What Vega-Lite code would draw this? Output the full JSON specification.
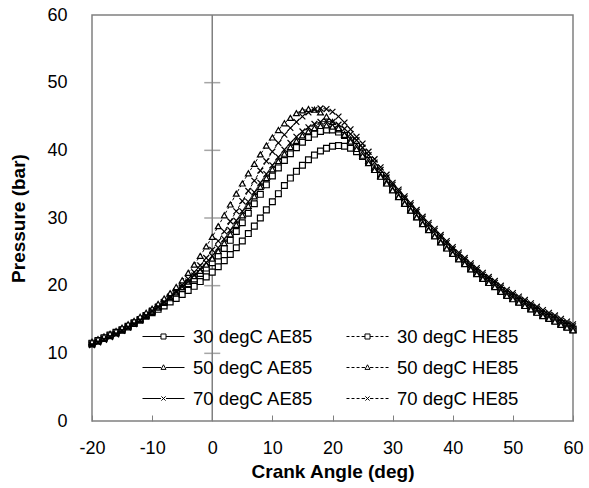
{
  "$schema": "https://vega.github.io/schema/vega-lite/v6.json",
  "width": 481,
  "height": 406,
  "autosize": {"type": "none"},
  "padding": {"left": 92, "top": 15, "right": 16, "bottom": 67},
  "background": "white",
  "config": {
    "font": "Liberation Sans",
    "view": {"stroke": "#808080", "strokeWidth": 1.5},
    "axis": {"grid": false, "labelColor": "black", "titleColor": "black", "labelFont": "Liberation Sans", "titleFont": "Liberation Sans"}
  },
  "datasets": {
    "curves": [
{"series":"30 degC AE85","angle":-20,"pressure":11.4},{"series":"30 degC AE85","angle":-19,"pressure":11.8},{"series":"30 degC AE85","angle":-18,"pressure":12.2},{"series":"30 degC AE85","angle":-17,"pressure":12.6},{"series":"30 degC AE85","angle":-16,"pressure":13.0},{"series":"30 degC AE85","angle":-15,"pressure":13.4},{"series":"30 degC AE85","angle":-14,"pressure":13.9},{"series":"30 degC AE85","angle":-13,"pressure":14.4},{"series":"30 degC AE85","angle":-12,"pressure":14.9},{"series":"30 degC AE85","angle":-11,"pressure":15.5},
{"series":"30 degC AE85","angle":-10,"pressure":16.0},{"series":"30 degC AE85","angle":-9,"pressure":16.5},{"series":"30 degC AE85","angle":-8,"pressure":17.0},{"series":"30 degC AE85","angle":-7,"pressure":17.6},{"series":"30 degC AE85","angle":-6,"pressure":18.1},{"series":"30 degC AE85","angle":-5,"pressure":18.7},{"series":"30 degC AE85","angle":-4,"pressure":19.3},{"series":"30 degC AE85","angle":-3,"pressure":19.9},{"series":"30 degC AE85","angle":-2,"pressure":20.6},{"series":"30 degC AE85","angle":-1,"pressure":21.3},
{"series":"30 degC AE85","angle":0,"pressure":22.0},{"series":"30 degC AE85","angle":1,"pressure":22.8},{"series":"30 degC AE85","angle":2,"pressure":23.7},{"series":"30 degC AE85","angle":3,"pressure":24.6},{"series":"30 degC AE85","angle":4,"pressure":25.6},{"series":"30 degC AE85","angle":5,"pressure":26.6},{"series":"30 degC AE85","angle":6,"pressure":27.7},{"series":"30 degC AE85","angle":7,"pressure":28.8},{"series":"30 degC AE85","angle":8,"pressure":30.0},{"series":"30 degC AE85","angle":9,"pressure":31.2},
{"series":"30 degC AE85","angle":10,"pressure":32.4},{"series":"30 degC AE85","angle":11,"pressure":33.6},{"series":"30 degC AE85","angle":12,"pressure":34.8},{"series":"30 degC AE85","angle":13,"pressure":35.9},{"series":"30 degC AE85","angle":14,"pressure":36.9},{"series":"30 degC AE85","angle":15,"pressure":37.8},{"series":"30 degC AE85","angle":16,"pressure":38.6},{"series":"30 degC AE85","angle":17,"pressure":39.3},{"series":"30 degC AE85","angle":18,"pressure":39.9},{"series":"30 degC AE85","angle":19,"pressure":40.3},
{"series":"30 degC AE85","angle":20,"pressure":40.6},{"series":"30 degC AE85","angle":21,"pressure":40.7},{"series":"30 degC AE85","angle":22,"pressure":40.6},{"series":"30 degC AE85","angle":23,"pressure":40.3},{"series":"30 degC AE85","angle":24,"pressure":39.8},{"series":"30 degC AE85","angle":25,"pressure":39.1},{"series":"30 degC AE85","angle":26,"pressure":38.2},{"series":"30 degC AE85","angle":27,"pressure":37.2},{"series":"30 degC AE85","angle":28,"pressure":36.2},{"series":"30 degC AE85","angle":29,"pressure":35.2},
{"series":"30 degC AE85","angle":30,"pressure":34.2},{"series":"30 degC AE85","angle":31,"pressure":33.2},{"series":"30 degC AE85","angle":32,"pressure":32.2},{"series":"30 degC AE85","angle":33,"pressure":31.2},{"series":"30 degC AE85","angle":34,"pressure":30.2},{"series":"30 degC AE85","angle":35,"pressure":29.2},{"series":"30 degC AE85","angle":36,"pressure":28.3},{"series":"30 degC AE85","angle":37,"pressure":27.4},{"series":"30 degC AE85","angle":38,"pressure":26.5},{"series":"30 degC AE85","angle":39,"pressure":25.6},
{"series":"30 degC AE85","angle":40,"pressure":24.8},{"series":"30 degC AE85","angle":41,"pressure":24.0},{"series":"30 degC AE85","angle":42,"pressure":23.3},{"series":"30 degC AE85","angle":43,"pressure":22.5},{"series":"30 degC AE85","angle":44,"pressure":21.8},{"series":"30 degC AE85","angle":45,"pressure":21.1},{"series":"30 degC AE85","angle":46,"pressure":20.5},{"series":"30 degC AE85","angle":47,"pressure":19.9},{"series":"30 degC AE85","angle":48,"pressure":19.2},{"series":"30 degC AE85","angle":49,"pressure":18.6},
{"series":"30 degC AE85","angle":50,"pressure":18.1},{"series":"30 degC AE85","angle":51,"pressure":17.6},{"series":"30 degC AE85","angle":52,"pressure":17.1},{"series":"30 degC AE85","angle":53,"pressure":16.6},{"series":"30 degC AE85","angle":54,"pressure":16.1},{"series":"30 degC AE85","angle":55,"pressure":15.6},{"series":"30 degC AE85","angle":56,"pressure":15.2},{"series":"30 degC AE85","angle":57,"pressure":14.8},{"series":"30 degC AE85","angle":58,"pressure":14.3},{"series":"30 degC AE85","angle":59,"pressure":13.9},{"series":"30 degC AE85","angle":60,"pressure":13.5},

{"series":"30 degC HE85","angle":-20,"pressure":11.5},{"series":"30 degC HE85","angle":-19,"pressure":11.9},{"series":"30 degC HE85","angle":-18,"pressure":12.3},{"series":"30 degC HE85","angle":-17,"pressure":12.7},{"series":"30 degC HE85","angle":-16,"pressure":13.1},{"series":"30 degC HE85","angle":-15,"pressure":13.5},{"series":"30 degC HE85","angle":-14,"pressure":14.0},{"series":"30 degC HE85","angle":-13,"pressure":14.5},{"series":"30 degC HE85","angle":-12,"pressure":15.0},{"series":"30 degC HE85","angle":-11,"pressure":15.6},
{"series":"30 degC HE85","angle":-10,"pressure":16.2},{"series":"30 degC HE85","angle":-9,"pressure":16.8},{"series":"30 degC HE85","angle":-8,"pressure":17.5},{"series":"30 degC HE85","angle":-7,"pressure":18.2},{"series":"30 degC HE85","angle":-6,"pressure":18.9},{"series":"30 degC HE85","angle":-5,"pressure":19.6},{"series":"30 degC HE85","angle":-4,"pressure":20.3},{"series":"30 degC HE85","angle":-3,"pressure":21.0},{"series":"30 degC HE85","angle":-2,"pressure":21.8},{"series":"30 degC HE85","angle":-1,"pressure":22.6},
{"series":"30 degC HE85","angle":0,"pressure":23.4},{"series":"30 degC HE85","angle":1,"pressure":24.4},{"series":"30 degC HE85","angle":2,"pressure":25.5},{"series":"30 degC HE85","angle":3,"pressure":26.7},{"series":"30 degC HE85","angle":4,"pressure":28.0},{"series":"30 degC HE85","angle":5,"pressure":29.3},{"series":"30 degC HE85","angle":6,"pressure":30.7},{"series":"30 degC HE85","angle":7,"pressure":32.1},{"series":"30 degC HE85","angle":8,"pressure":33.5},{"series":"30 degC HE85","angle":9,"pressure":34.9},
{"series":"30 degC HE85","angle":10,"pressure":36.2},{"series":"30 degC HE85","angle":11,"pressure":37.4},{"series":"30 degC HE85","angle":12,"pressure":38.5},{"series":"30 degC HE85","angle":13,"pressure":39.5},{"series":"30 degC HE85","angle":14,"pressure":40.4},{"series":"30 degC HE85","angle":15,"pressure":41.2},{"series":"30 degC HE85","angle":16,"pressure":41.9},{"series":"30 degC HE85","angle":17,"pressure":42.4},{"series":"30 degC HE85","angle":18,"pressure":42.8},{"series":"30 degC HE85","angle":19,"pressure":43.0},
{"series":"30 degC HE85","angle":20,"pressure":43.0},{"series":"30 degC HE85","angle":21,"pressure":42.7},{"series":"30 degC HE85","angle":22,"pressure":42.2},{"series":"30 degC HE85","angle":23,"pressure":41.5},{"series":"30 degC HE85","angle":24,"pressure":40.6},{"series":"30 degC HE85","angle":25,"pressure":39.6},{"series":"30 degC HE85","angle":26,"pressure":38.5},{"series":"30 degC HE85","angle":27,"pressure":37.4},{"series":"30 degC HE85","angle":28,"pressure":36.3},{"series":"30 degC HE85","angle":29,"pressure":35.3},
{"series":"30 degC HE85","angle":30,"pressure":34.3},{"series":"30 degC HE85","angle":31,"pressure":33.3},{"series":"30 degC HE85","angle":32,"pressure":32.3},{"series":"30 degC HE85","angle":33,"pressure":31.3},{"series":"30 degC HE85","angle":34,"pressure":30.3},{"series":"30 degC HE85","angle":35,"pressure":29.3},{"series":"30 degC HE85","angle":36,"pressure":28.4},{"series":"30 degC HE85","angle":37,"pressure":27.5},{"series":"30 degC HE85","angle":38,"pressure":26.6},{"series":"30 degC HE85","angle":39,"pressure":25.7},
{"series":"30 degC HE85","angle":40,"pressure":24.9},{"series":"30 degC HE85","angle":41,"pressure":24.1},{"series":"30 degC HE85","angle":42,"pressure":23.4},{"series":"30 degC HE85","angle":43,"pressure":22.6},{"series":"30 degC HE85","angle":44,"pressure":21.9},{"series":"30 degC HE85","angle":45,"pressure":21.2},{"series":"30 degC HE85","angle":46,"pressure":20.6},{"series":"30 degC HE85","angle":47,"pressure":20.0},{"series":"30 degC HE85","angle":48,"pressure":19.3},{"series":"30 degC HE85","angle":49,"pressure":18.7},
{"series":"30 degC HE85","angle":50,"pressure":18.2},{"series":"30 degC HE85","angle":51,"pressure":17.7},{"series":"30 degC HE85","angle":52,"pressure":17.2},{"series":"30 degC HE85","angle":53,"pressure":16.7},{"series":"30 degC HE85","angle":54,"pressure":16.2},{"series":"30 degC HE85","angle":55,"pressure":15.7},{"series":"30 degC HE85","angle":56,"pressure":15.3},{"series":"30 degC HE85","angle":57,"pressure":14.9},{"series":"30 degC HE85","angle":58,"pressure":14.4},{"series":"30 degC HE85","angle":59,"pressure":14.0},{"series":"30 degC HE85","angle":60,"pressure":13.6},

{"series":"50 degC AE85","angle":-20,"pressure":11.5},{"series":"50 degC AE85","angle":-19,"pressure":11.9},{"series":"50 degC AE85","angle":-18,"pressure":12.3},{"series":"50 degC AE85","angle":-17,"pressure":12.7},{"series":"50 degC AE85","angle":-16,"pressure":13.1},{"series":"50 degC AE85","angle":-15,"pressure":13.6},{"series":"50 degC AE85","angle":-14,"pressure":14.1},{"series":"50 degC AE85","angle":-13,"pressure":14.6},{"series":"50 degC AE85","angle":-12,"pressure":15.1},{"series":"50 degC AE85","angle":-11,"pressure":15.7},
{"series":"50 degC AE85","angle":-10,"pressure":16.3},{"series":"50 degC AE85","angle":-9,"pressure":16.9},{"series":"50 degC AE85","angle":-8,"pressure":17.6},{"series":"50 degC AE85","angle":-7,"pressure":18.3},{"series":"50 degC AE85","angle":-6,"pressure":19.0},{"series":"50 degC AE85","angle":-5,"pressure":19.8},{"series":"50 degC AE85","angle":-4,"pressure":20.6},{"series":"50 degC AE85","angle":-3,"pressure":21.4},{"series":"50 degC AE85","angle":-2,"pressure":22.2},{"series":"50 degC AE85","angle":-1,"pressure":23.1},
{"series":"50 degC AE85","angle":0,"pressure":24.0},{"series":"50 degC AE85","angle":1,"pressure":25.1},{"series":"50 degC AE85","angle":2,"pressure":26.3},{"series":"50 degC AE85","angle":3,"pressure":27.6},{"series":"50 degC AE85","angle":4,"pressure":29.0},{"series":"50 degC AE85","angle":5,"pressure":30.4},{"series":"50 degC AE85","angle":6,"pressure":31.8},{"series":"50 degC AE85","angle":7,"pressure":33.2},{"series":"50 degC AE85","angle":8,"pressure":34.6},{"series":"50 degC AE85","angle":9,"pressure":35.9},
{"series":"50 degC AE85","angle":10,"pressure":37.2},{"series":"50 degC AE85","angle":11,"pressure":38.4},{"series":"50 degC AE85","angle":12,"pressure":39.5},{"series":"50 degC AE85","angle":13,"pressure":40.5},{"series":"50 degC AE85","angle":14,"pressure":41.4},{"series":"50 degC AE85","angle":15,"pressure":42.2},{"series":"50 degC AE85","angle":16,"pressure":42.8},{"series":"50 degC AE85","angle":17,"pressure":43.3},{"series":"50 degC AE85","angle":18,"pressure":43.6},{"series":"50 degC AE85","angle":19,"pressure":43.7},
{"series":"50 degC AE85","angle":20,"pressure":43.5},{"series":"50 degC AE85","angle":21,"pressure":43.1},{"series":"50 degC AE85","angle":22,"pressure":42.4},{"series":"50 degC AE85","angle":23,"pressure":41.6},{"series":"50 degC AE85","angle":24,"pressure":40.6},{"series":"50 degC AE85","angle":25,"pressure":39.6},{"series":"50 degC AE85","angle":26,"pressure":38.5},{"series":"50 degC AE85","angle":27,"pressure":37.4},{"series":"50 degC AE85","angle":28,"pressure":36.3},{"series":"50 degC AE85","angle":29,"pressure":35.3},
{"series":"50 degC AE85","angle":30,"pressure":34.2},{"series":"50 degC AE85","angle":31,"pressure":33.2},{"series":"50 degC AE85","angle":32,"pressure":32.2},{"series":"50 degC AE85","angle":33,"pressure":31.2},{"series":"50 degC AE85","angle":34,"pressure":30.2},{"series":"50 degC AE85","angle":35,"pressure":29.2},{"series":"50 degC AE85","angle":36,"pressure":28.3},{"series":"50 degC AE85","angle":37,"pressure":27.4},{"series":"50 degC AE85","angle":38,"pressure":26.5},{"series":"50 degC AE85","angle":39,"pressure":25.6},
{"series":"50 degC AE85","angle":40,"pressure":24.8},{"series":"50 degC AE85","angle":41,"pressure":24.0},{"series":"50 degC AE85","angle":42,"pressure":23.3},{"series":"50 degC AE85","angle":43,"pressure":22.5},{"series":"50 degC AE85","angle":44,"pressure":21.8},{"series":"50 degC AE85","angle":45,"pressure":21.1},{"series":"50 degC AE85","angle":46,"pressure":20.5},{"series":"50 degC AE85","angle":47,"pressure":19.9},{"series":"50 degC AE85","angle":48,"pressure":19.2},{"series":"50 degC AE85","angle":49,"pressure":18.6},
{"series":"50 degC AE85","angle":50,"pressure":18.1},{"series":"50 degC AE85","angle":51,"pressure":17.6},{"series":"50 degC AE85","angle":52,"pressure":17.1},{"series":"50 degC AE85","angle":53,"pressure":16.6},{"series":"50 degC AE85","angle":54,"pressure":16.1},{"series":"50 degC AE85","angle":55,"pressure":15.6},{"series":"50 degC AE85","angle":56,"pressure":15.2},{"series":"50 degC AE85","angle":57,"pressure":14.8},{"series":"50 degC AE85","angle":58,"pressure":14.3},{"series":"50 degC AE85","angle":59,"pressure":13.9},{"series":"50 degC AE85","angle":60,"pressure":13.5},

{"series":"50 degC HE85","angle":-20,"pressure":11.7},{"series":"50 degC HE85","angle":-19,"pressure":12.1},{"series":"50 degC HE85","angle":-18,"pressure":12.5},{"series":"50 degC HE85","angle":-17,"pressure":12.9},{"series":"50 degC HE85","angle":-16,"pressure":13.3},{"series":"50 degC HE85","angle":-15,"pressure":13.8},{"series":"50 degC HE85","angle":-14,"pressure":14.3},{"series":"50 degC HE85","angle":-13,"pressure":14.8},{"series":"50 degC HE85","angle":-12,"pressure":15.4},{"series":"50 degC HE85","angle":-11,"pressure":16.0},
{"series":"50 degC HE85","angle":-10,"pressure":16.6},{"series":"50 degC HE85","angle":-9,"pressure":17.3},{"series":"50 degC HE85","angle":-8,"pressure":18.1},{"series":"50 degC HE85","angle":-7,"pressure":18.9},{"series":"50 degC HE85","angle":-6,"pressure":19.8},{"series":"50 degC HE85","angle":-5,"pressure":20.8},{"series":"50 degC HE85","angle":-4,"pressure":21.9},{"series":"50 degC HE85","angle":-3,"pressure":23.1},{"series":"50 degC HE85","angle":-2,"pressure":24.4},{"series":"50 degC HE85","angle":-1,"pressure":25.8},
{"series":"50 degC HE85","angle":0,"pressure":27.2},{"series":"50 degC HE85","angle":1,"pressure":28.8},{"series":"50 degC HE85","angle":2,"pressure":30.4},{"series":"50 degC HE85","angle":3,"pressure":32.0},{"series":"50 degC HE85","angle":4,"pressure":33.6},{"series":"50 degC HE85","angle":5,"pressure":35.1},{"series":"50 degC HE85","angle":6,"pressure":36.6},{"series":"50 degC HE85","angle":7,"pressure":38.0},{"series":"50 degC HE85","angle":8,"pressure":39.4},{"series":"50 degC HE85","angle":9,"pressure":40.7},
{"series":"50 degC HE85","angle":10,"pressure":41.9},{"series":"50 degC HE85","angle":11,"pressure":43.0},{"series":"50 degC HE85","angle":12,"pressure":44.0},{"series":"50 degC HE85","angle":13,"pressure":44.8},{"series":"50 degC HE85","angle":14,"pressure":45.5},{"series":"50 degC HE85","angle":15,"pressure":45.9},{"series":"50 degC HE85","angle":16,"pressure":46.1},{"series":"50 degC HE85","angle":17,"pressure":46.0},{"series":"50 degC HE85","angle":18,"pressure":45.6},{"series":"50 degC HE85","angle":19,"pressure":45.0},
{"series":"50 degC HE85","angle":20,"pressure":44.2},{"series":"50 degC HE85","angle":21,"pressure":43.3},{"series":"50 degC HE85","angle":22,"pressure":42.3},{"series":"50 degC HE85","angle":23,"pressure":41.3},{"series":"50 degC HE85","angle":24,"pressure":40.2},{"series":"50 degC HE85","angle":25,"pressure":39.2},{"series":"50 degC HE85","angle":26,"pressure":38.1},{"series":"50 degC HE85","angle":27,"pressure":37.1},{"series":"50 degC HE85","angle":28,"pressure":36.1},{"series":"50 degC HE85","angle":29,"pressure":35.1},
{"series":"50 degC HE85","angle":30,"pressure":34.1},{"series":"50 degC HE85","angle":31,"pressure":33.1},{"series":"50 degC HE85","angle":32,"pressure":32.1},{"series":"50 degC HE85","angle":33,"pressure":31.1},{"series":"50 degC HE85","angle":34,"pressure":30.1},{"series":"50 degC HE85","angle":35,"pressure":29.1},{"series":"50 degC HE85","angle":36,"pressure":28.2},{"series":"50 degC HE85","angle":37,"pressure":27.3},{"series":"50 degC HE85","angle":38,"pressure":26.4},{"series":"50 degC HE85","angle":39,"pressure":25.5},
{"series":"50 degC HE85","angle":40,"pressure":24.7},{"series":"50 degC HE85","angle":41,"pressure":23.9},{"series":"50 degC HE85","angle":42,"pressure":23.2},{"series":"50 degC HE85","angle":43,"pressure":22.4},{"series":"50 degC HE85","angle":44,"pressure":21.7},{"series":"50 degC HE85","angle":45,"pressure":21.0},{"series":"50 degC HE85","angle":46,"pressure":20.4},{"series":"50 degC HE85","angle":47,"pressure":19.8},{"series":"50 degC HE85","angle":48,"pressure":19.1},{"series":"50 degC HE85","angle":49,"pressure":18.5},
{"series":"50 degC HE85","angle":50,"pressure":18.0},{"series":"50 degC HE85","angle":51,"pressure":17.5},{"series":"50 degC HE85","angle":52,"pressure":17.0},{"series":"50 degC HE85","angle":53,"pressure":16.5},{"series":"50 degC HE85","angle":54,"pressure":16.0},{"series":"50 degC HE85","angle":55,"pressure":15.5},{"series":"50 degC HE85","angle":56,"pressure":15.1},{"series":"50 degC HE85","angle":57,"pressure":14.7},{"series":"50 degC HE85","angle":58,"pressure":14.2},{"series":"50 degC HE85","angle":59,"pressure":13.8},{"series":"50 degC HE85","angle":60,"pressure":13.4},

{"series":"70 degC AE85","angle":-20,"pressure":11.3},{"series":"70 degC AE85","angle":-19,"pressure":11.7},{"series":"70 degC AE85","angle":-18,"pressure":12.1},{"series":"70 degC AE85","angle":-17,"pressure":12.5},{"series":"70 degC AE85","angle":-16,"pressure":12.9},{"series":"70 degC AE85","angle":-15,"pressure":13.4},{"series":"70 degC AE85","angle":-14,"pressure":13.9},{"series":"70 degC AE85","angle":-13,"pressure":14.4},{"series":"70 degC AE85","angle":-12,"pressure":14.9},{"series":"70 degC AE85","angle":-11,"pressure":15.5},
{"series":"70 degC AE85","angle":-10,"pressure":16.2},{"series":"70 degC AE85","angle":-9,"pressure":16.8},{"series":"70 degC AE85","angle":-8,"pressure":17.5},{"series":"70 degC AE85","angle":-7,"pressure":18.2},{"series":"70 degC AE85","angle":-6,"pressure":19.0},{"series":"70 degC AE85","angle":-5,"pressure":19.8},{"series":"70 degC AE85","angle":-4,"pressure":20.6},{"series":"70 degC AE85","angle":-3,"pressure":21.5},{"series":"70 degC AE85","angle":-2,"pressure":22.4},{"series":"70 degC AE85","angle":-1,"pressure":23.4},
{"series":"70 degC AE85","angle":0,"pressure":24.4},{"series":"70 degC AE85","angle":1,"pressure":25.6},{"series":"70 degC AE85","angle":2,"pressure":26.9},{"series":"70 degC AE85","angle":3,"pressure":28.2},{"series":"70 degC AE85","angle":4,"pressure":29.6},{"series":"70 degC AE85","angle":5,"pressure":31.0},{"series":"70 degC AE85","angle":6,"pressure":32.4},{"series":"70 degC AE85","angle":7,"pressure":33.8},{"series":"70 degC AE85","angle":8,"pressure":35.2},{"series":"70 degC AE85","angle":9,"pressure":36.5},
{"series":"70 degC AE85","angle":10,"pressure":37.8},{"series":"70 degC AE85","angle":11,"pressure":39.0},{"series":"70 degC AE85","angle":12,"pressure":40.1},{"series":"70 degC AE85","angle":13,"pressure":41.1},{"series":"70 degC AE85","angle":14,"pressure":42.0},{"series":"70 degC AE85","angle":15,"pressure":42.8},{"series":"70 degC AE85","angle":16,"pressure":43.4},{"series":"70 degC AE85","angle":17,"pressure":43.9},{"series":"70 degC AE85","angle":18,"pressure":44.2},{"series":"70 degC AE85","angle":19,"pressure":44.3},
{"series":"70 degC AE85","angle":20,"pressure":44.2},{"series":"70 degC AE85","angle":21,"pressure":43.8},{"series":"70 degC AE85","angle":22,"pressure":43.2},{"series":"70 degC AE85","angle":23,"pressure":42.4},{"series":"70 degC AE85","angle":24,"pressure":41.5},{"series":"70 degC AE85","angle":25,"pressure":40.4},{"series":"70 degC AE85","angle":26,"pressure":39.3},{"series":"70 degC AE85","angle":27,"pressure":38.2},{"series":"70 degC AE85","angle":28,"pressure":37.1},{"series":"70 degC AE85","angle":29,"pressure":36.0},
{"series":"70 degC AE85","angle":30,"pressure":34.9},{"series":"70 degC AE85","angle":31,"pressure":33.9},{"series":"70 degC AE85","angle":32,"pressure":32.9},{"series":"70 degC AE85","angle":33,"pressure":31.9},{"series":"70 degC AE85","angle":34,"pressure":30.9},{"series":"70 degC AE85","angle":35,"pressure":29.9},{"series":"70 degC AE85","angle":36,"pressure":29.0},{"series":"70 degC AE85","angle":37,"pressure":28.1},{"series":"70 degC AE85","angle":38,"pressure":27.2},{"series":"70 degC AE85","angle":39,"pressure":26.3},
{"series":"70 degC AE85","angle":40,"pressure":25.4},{"series":"70 degC AE85","angle":41,"pressure":24.6},{"series":"70 degC AE85","angle":42,"pressure":23.8},{"series":"70 degC AE85","angle":43,"pressure":23.0},{"series":"70 degC AE85","angle":44,"pressure":22.3},{"series":"70 degC AE85","angle":45,"pressure":21.6},{"series":"70 degC AE85","angle":46,"pressure":21.0},{"series":"70 degC AE85","angle":47,"pressure":20.4},{"series":"70 degC AE85","angle":48,"pressure":19.7},{"series":"70 degC AE85","angle":49,"pressure":19.1},
{"series":"70 degC AE85","angle":50,"pressure":18.6},{"series":"70 degC AE85","angle":51,"pressure":18.1},{"series":"70 degC AE85","angle":52,"pressure":17.6},{"series":"70 degC AE85","angle":53,"pressure":17.1},{"series":"70 degC AE85","angle":54,"pressure":16.6},{"series":"70 degC AE85","angle":55,"pressure":16.1},{"series":"70 degC AE85","angle":56,"pressure":15.7},{"series":"70 degC AE85","angle":57,"pressure":15.3},{"series":"70 degC AE85","angle":58,"pressure":14.8},{"series":"70 degC AE85","angle":59,"pressure":14.4},{"series":"70 degC AE85","angle":60,"pressure":14.0},

{"series":"70 degC HE85","angle":-20,"pressure":11.2},{"series":"70 degC HE85","angle":-19,"pressure":11.6},{"series":"70 degC HE85","angle":-18,"pressure":12.0},{"series":"70 degC HE85","angle":-17,"pressure":12.4},{"series":"70 degC HE85","angle":-16,"pressure":12.8},{"series":"70 degC HE85","angle":-15,"pressure":13.3},{"series":"70 degC HE85","angle":-14,"pressure":13.8},{"series":"70 degC HE85","angle":-13,"pressure":14.3},{"series":"70 degC HE85","angle":-12,"pressure":14.9},{"series":"70 degC HE85","angle":-11,"pressure":15.6},
{"series":"70 degC HE85","angle":-10,"pressure":16.3},{"series":"70 degC HE85","angle":-9,"pressure":16.9},{"series":"70 degC HE85","angle":-8,"pressure":17.6},{"series":"70 degC HE85","angle":-7,"pressure":18.4},{"series":"70 degC HE85","angle":-6,"pressure":19.2},{"series":"70 degC HE85","angle":-5,"pressure":20.1},{"series":"70 degC HE85","angle":-4,"pressure":21.0},{"series":"70 degC HE85","angle":-3,"pressure":22.0},{"series":"70 degC HE85","angle":-2,"pressure":23.0},{"series":"70 degC HE85","angle":-1,"pressure":24.1},
{"series":"70 degC HE85","angle":0,"pressure":25.3},{"series":"70 degC HE85","angle":1,"pressure":26.6},{"series":"70 degC HE85","angle":2,"pressure":28.0},{"series":"70 degC HE85","angle":3,"pressure":29.5},{"series":"70 degC HE85","angle":4,"pressure":31.0},{"series":"70 degC HE85","angle":5,"pressure":32.5},{"series":"70 degC HE85","angle":6,"pressure":34.0},{"series":"70 degC HE85","angle":7,"pressure":35.5},{"series":"70 degC HE85","angle":8,"pressure":37.0},{"series":"70 degC HE85","angle":9,"pressure":38.4},
{"series":"70 degC HE85","angle":10,"pressure":39.8},{"series":"70 degC HE85","angle":11,"pressure":41.1},{"series":"70 degC HE85","angle":12,"pressure":42.3},{"series":"70 degC HE85","angle":13,"pressure":43.3},{"series":"70 degC HE85","angle":14,"pressure":44.2},{"series":"70 degC HE85","angle":15,"pressure":45.0},{"series":"70 degC HE85","angle":16,"pressure":45.6},{"series":"70 degC HE85","angle":17,"pressure":46.0},{"series":"70 degC HE85","angle":18,"pressure":46.2},{"series":"70 degC HE85","angle":19,"pressure":46.1},
{"series":"70 degC HE85","angle":20,"pressure":45.7},{"series":"70 degC HE85","angle":21,"pressure":45.0},{"series":"70 degC HE85","angle":22,"pressure":44.1},{"series":"70 degC HE85","angle":23,"pressure":43.1},{"series":"70 degC HE85","angle":24,"pressure":42.0},{"series":"70 degC HE85","angle":25,"pressure":41.0},{"series":"70 degC HE85","angle":26,"pressure":39.8},{"series":"70 degC HE85","angle":27,"pressure":38.7},{"series":"70 degC HE85","angle":28,"pressure":37.5},{"series":"70 degC HE85","angle":29,"pressure":36.4},
{"series":"70 degC HE85","angle":30,"pressure":35.2},{"series":"70 degC HE85","angle":31,"pressure":34.2},{"series":"70 degC HE85","angle":32,"pressure":33.2},{"series":"70 degC HE85","angle":33,"pressure":32.2},{"series":"70 degC HE85","angle":34,"pressure":31.2},{"series":"70 degC HE85","angle":35,"pressure":30.2},{"series":"70 degC HE85","angle":36,"pressure":29.3},{"series":"70 degC HE85","angle":37,"pressure":28.4},{"series":"70 degC HE85","angle":38,"pressure":27.5},{"series":"70 degC HE85","angle":39,"pressure":26.6},
{"series":"70 degC HE85","angle":40,"pressure":25.7},{"series":"70 degC HE85","angle":41,"pressure":24.9},{"series":"70 degC HE85","angle":42,"pressure":24.1},{"series":"70 degC HE85","angle":43,"pressure":23.3},{"series":"70 degC HE85","angle":44,"pressure":22.6},{"series":"70 degC HE85","angle":45,"pressure":21.9},{"series":"70 degC HE85","angle":46,"pressure":21.3},{"series":"70 degC HE85","angle":47,"pressure":20.7},{"series":"70 degC HE85","angle":48,"pressure":20.0},{"series":"70 degC HE85","angle":49,"pressure":19.4},
{"series":"70 degC HE85","angle":50,"pressure":18.9},{"series":"70 degC HE85","angle":51,"pressure":18.4},{"series":"70 degC HE85","angle":52,"pressure":17.9},{"series":"70 degC HE85","angle":53,"pressure":17.4},{"series":"70 degC HE85","angle":54,"pressure":16.9},{"series":"70 degC HE85","angle":55,"pressure":16.4},{"series":"70 degC HE85","angle":56,"pressure":16.0},{"series":"70 degC HE85","angle":57,"pressure":15.6},{"series":"70 degC HE85","angle":58,"pressure":15.1},{"series":"70 degC HE85","angle":59,"pressure":14.7},{"series":"70 degC HE85","angle":60,"pressure":14.3}
    ],
    "crossTicks": [{"pressure": 10}, {"pressure": 20}, {"pressure": 30}, {"pressure": 40}, {"pressure": 50}]
  },
  "layer": [
    {
      "data": {"values": [{"angle": 0}]},
      "mark": {"type": "rule", "color": "#808080", "strokeWidth": 1.5},
      "encoding": {
        "x": {"field": "angle", "type": "quantitative", "scale": {"domain": [-20, 60], "nice": false},
          "axis": {"orient": "bottom", "values": [-20, -10, 0, 10, 20, 30, 40, 50, 60], "labelExpr": "'' + datum.value", "labelFlush": false, "domain": false, "ticks": true, "tickSize": -6, "tickColor": "#808080", "tickWidth": 1, "labelFontSize": 18, "labelPadding": 24, "title": "Crank Angle (deg)", "titleFontSize": 19, "titleFontWeight": "bold", "titlePadding": 5}}
      }
    },
    {
      "data": {"name": "crossTicks"},
      "mark": {"type": "tick", "orient": "horizontal", "color": "#808080", "thickness": 1.5, "size": 16},
      "encoding": {
        "x": {"datum": 0, "type": "quantitative"},
        "y": {"field": "pressure", "type": "quantitative", "scale": {"domain": [0, 60], "nice": false},
          "axis": {"values": [0, 10, 20, 30, 40, 50, 60], "labelFlush": false, "domain": false, "ticks": false, "labelFontSize": 18, "labelPadding": 25, "title": "Pressure (bar)", "titleFontSize": 19, "titleFontWeight": "bold", "titlePadding": 18}}
      }
    },
    {
      "data": {"name": "curves"},
      "mark": {"type": "line", "color": "black", "strokeWidth": 1},
      "encoding": {
        "x": {"field": "angle", "type": "quantitative"},
        "y": {"field": "pressure", "type": "quantitative"},
        "detail": {"field": "series"},
        "strokeDash": {"field": "series", "type": "nominal", "legend": null,
          "scale": {"domain": ["30 degC AE85", "30 degC HE85", "50 degC AE85", "50 degC HE85", "70 degC AE85", "70 degC HE85"],
                    "range": [[1, 0], [3, 2], [1, 0], [3, 2], [1, 0], [3, 2]]}}
      }
    },
    {
      "data": {"name": "curves"},
      "mark": {"type": "point", "filled": true, "fill": "white", "stroke": "black", "strokeWidth": 1.2, "opacity": 1},
      "encoding": {
        "x": {"field": "angle", "type": "quantitative"},
        "y": {"field": "pressure", "type": "quantitative"},
        "shape": {"field": "series", "type": "nominal", "legend": null,
          "scale": {"domain": ["30 degC AE85", "30 degC HE85", "50 degC AE85", "50 degC HE85", "70 degC AE85", "70 degC HE85"],
                    "range": ["square", "square", "triangle-up", "triangle-up", "M-1,-1L1,1M-1,1L1,-1", "M-1,-1L1,1M-1,1L1,-1"]}},
        "size": {"field": "series", "type": "nominal", "legend": null,
          "scale": {"domain": ["30 degC AE85", "30 degC HE85", "50 degC AE85", "50 degC HE85", "70 degC AE85", "70 degC HE85"],
                    "range": [34, 34, 42, 42, 38, 38]}}
      }
    },
    {
      "data": {"name": "curves"},
      "transform": [{"filter": "datum.angle > 1000"}],
      "mark": {"type": "point", "filled": false, "color": "black", "strokeWidth": 1, "opacity": 1},
      "encoding": {
        "x": {"field": "angle", "type": "quantitative"},
        "y": {"field": "pressure", "type": "quantitative"},
        "shape": {"field": "series", "type": "nominal",
          "scale": {"domain": ["30 degC AE85", "30 degC HE85", "50 degC AE85", "50 degC HE85", "70 degC AE85", "70 degC HE85"],
                    "range": [
                      "M-1,0H-0.12M0.12,0H1M-0.12,-0.12H0.12V0.12H-0.12Z",
                      "M-1,0H-0.86M-0.76,0H-0.62M-0.52,0H-0.38M-0.28,0H-0.12M0.12,0H0.28M0.38,0H0.52M0.62,0H0.76M0.86,0H1M-0.12,-0.12H0.12V0.12H-0.12Z",
                      "M-1,0H-0.12M0.12,0H1M0,-0.13L0.12,0.09H-0.12Z",
                      "M-1,0H-0.86M-0.76,0H-0.62M-0.52,0H-0.38M-0.28,0H-0.12M0.12,0H0.28M0.38,0H0.52M0.62,0H0.76M0.86,0H1M0,-0.13L0.12,0.09H-0.12Z",
                      "M-1,0H-0.12M0.12,0H1M-0.1,-0.1L0.1,0.1M-0.1,0.1L0.1,-0.1",
                      "M-1,0H-0.86M-0.76,0H-0.62M-0.52,0H-0.38M-0.28,0H-0.12M0.12,0H0.28M0.38,0H0.52M0.62,0H0.76M0.86,0H1M-0.1,-0.1L0.1,0.1M-0.1,0.1L0.1,-0.1"
                    ]},
          "legend": {"title": null, "orient": "none", "direction": "horizontal", "legendX": 50, "legendY": 300, "columns": 2, "columnPadding": 30, "rowPadding": -10, "padding": 0,
            "symbolSize": 1764, "symbolStrokeWidth": 1, "symbolStrokeColor": "black", "symbolOpacity": 1,
            "labelFontSize": 18.5, "labelColor": "black", "labelFont": "Liberation Sans", "labelOffset": 8, "labelLimit": 300,
            "encode": {"symbols": {"update": {"stroke": {"value": "black"}, "strokeWidth": {"value": 1}, "opacity": {"value": 1}, "fill": {"value": "white"}}}}}
        }
      }
    }
  ],
  "resolve": {"scale": {"shape": "independent"}, "legend": {"shape": "independent"}}
}
